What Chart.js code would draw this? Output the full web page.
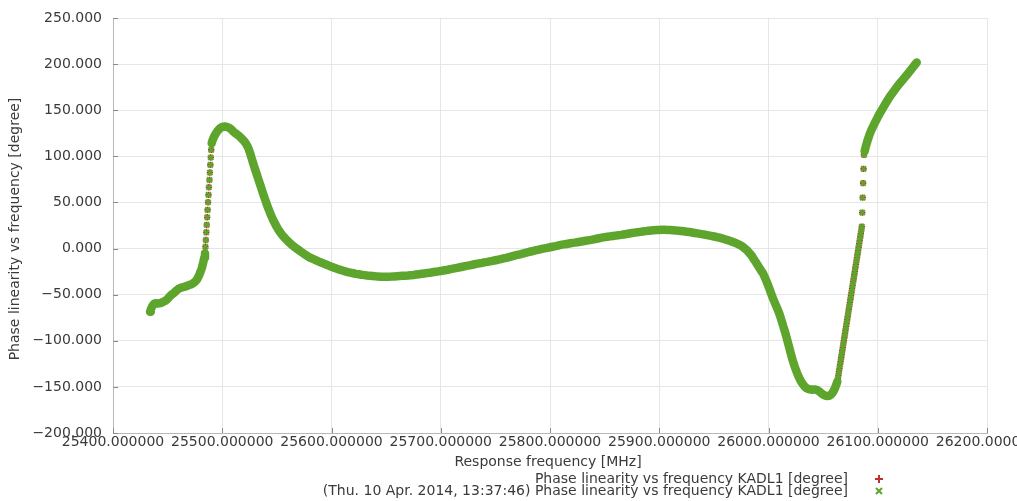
<!DOCTYPE html>
<html><head><meta charset="utf-8">
<script src="https://cdn.jsdelivr.net/npm/chart.js@4.4.1/dist/chart.umd.min.js"></script>
<style>html,body{margin:0;padding:0;background:#fff;}canvas{display:block;}</style>
</head><body>
<canvas id="c" width="1017" height="501"></canvas>
<script>
// Measured sweep: frequency [MHz] and phase linearity [degree]
const freqMHz = [
 25433.9,25434.6,25435.4,25436.5,25438.0,25439.5,25441.0,25442.5,25444.0,25445.5,
 25447.0,25448.5,25450.0,25451.5,25453.0,25454.5,25456.0,25457.5,25459.0,25460.5,
 25462.0,25463.5,25465.0,25466.5,25468.0,25469.5,25471.0,25472.5,25474.0,25475.5,
 25477.0,25478.2,25479.3,25480.3,25481.2,25482.0,25482.8,25483.5,
 25484.2,25484.6,25485.0,25485.4,25485.8,25486.2,25486.6,25487.0,25487.4,25487.8,
 25488.3,25488.7,25489.1,25489.5,25489.9,25490.3,
 25491,25492,25493,25494,25495,25496,25497,25498,25499,25500,
 25501,25502,25503,25504,25505,25506,25507,25508,25509,25510,
 25511,25512,25513,25514,25515,25516,25517,25518,25519,25520,
 25521,25522,25523,25524,25525,25526,25527,25528,25529,25530,
 25531,25532,25533,25534,25535,25536,25537,25538,25539,25540,
 25541,25542,25543,25544,25545,25546,25547,25548,25549,25550,
 25551,25552,25553,25554,25555,25556,25557,25558,25559,25560,
 25561.5,25563.0,25564.5,25566.0,25567.5,25569.0,25570.5,25572.0,25573.5,25575.0,
 25576.5,25578.0,
 25580,25582.5,25585,25587.5,25590,25592.5,25595,25597.5,25600,25602.5,
 25605,25607.5,25610,25612.5,25615,25617.5,25620,25622.5,25625,25627.5,
 25630,25632.5,25635,25637.5,25640,25642.5,25645,25647.5,25650,25652.5,
 25655,25657.5,25660,25662.5,25665,25667.5,25670,25672.5,25675,25677.5,
 25680,25682.5,25685,25687.5,25690,25692.5,25695,25697.5,25700,25702.5,
 25705,25707.5,25710,25712.5,25715,25717.5,25720,25722.5,25725,25727.5,
 25730,25732.5,25735,25737.5,25740,25742.5,25745,25747.5,25750,25752.5,
 25755,25757.5,25760,25762.5,25765,25767.5,25770,25772.5,25775,25777.5,
 25780,25782.5,25785,25787.5,25790,25792.5,25795,25797.5,25800,25802.5,
 25805,25807.5,25810,25812.5,25815,25817.5,25820,25822.5,25825,25827.5,
 25830,25832.5,25835,25837.5,25840,25842.5,25845,25847.5,25850,25852.5,
 25855,25857.5,25860,25862.5,25865,25867.5,25870,25872.5,25875,25877.5,
 25880,25882.5,25885,25887.5,25890,25892.5,25895,25897.5,25900,25902.5,
 25905,25907.5,25910,25912.5,25915,25917.5,25920,25922.5,25925,25927.5,
 25930,25932.5,25935,25937.5,25940,25942.5,25945,25947.5,25950,25952.5,
 25955,25957.5,25960,25962.5,25965,25967.5,25970,25972.5,25975,25977.5,
 25980,25982.5,25985,
 25986,25987,25988,25989,25990,25991,25992,25993,25994,25995,
 25996,25997,25998,25999,26000,26001,26002,26003,26004,26005,
 26006,26007,26008,26009,26010,26011,26012,26013,26014,26015,
 26016,26017,26018,26019,26020,26021,26022,26023,26024,26025,
 26026,26027,26028,26029,26030,26031,26032,26033,26034,26035,
 26036,26037,26038,26039,26040,26041,26042,26043,26044,26045,
 26046,26047,26048,26049,26050,26051,26052,26053,26054,26055,
 26056,26057,26058,26059,26060,26061,26062,26063,
 26063.5,26064,26064.5,26065,26065.5,26066,26066.5,26067,26067.5,26068,
 26068.5,26069,26069.5,26070,26070.5,26071,26071.5,26072,26072.5,26073,
 26073.5,26074,26074.5,26075,26075.5,26076,26076.5,26077,26077.5,26078,
 26078.5,26079,26079.5,26080,26080.5,26081,26081.5,26082,26082.5,26083,
 26083.5,26084,26084.5,26085,26085.4,
 26085.8,26086.2,26086.6,26087.0,26087.4,
 26088,26089,26090,26091,26092,26093,26094,26095,26096,26097,
 26098,26099,26100,26101,26102,26103,26104,26105,26106,26107,
 26108,26109,26110,26111,26112,26113,26114,26115,26116,26117,
 26118,26119,26120,26121,26122,26123,26124,26125,26126,26127,
 26128,26129,26130,26131,26132,26133,26134,26135,26135.7
];
const phaseDeg = [
 -68.6,-66.0,-63.8,-61.5,-59.6,-59.4,-59.5,-59.3,-58.9,-58.1,
 -57.1,-56.2,-54.6,-52.4,-50.6,-49.3,-47.8,-46.1,-44.6,-43.4,
 -42.6,-42.0,-41.6,-41.1,-40.4,-39.7,-39.0,-38.2,-37.0,-35.5,
 -33.3,-30.5,-27.5,-24.5,-21.5,-17.8,-14.0,-10.0,
 -5.1,2.0,9.3,17.6,25.6,33.9,41.9,50.2,58.2,66.5,
 74.4,82.4,90.7,98.7,107.0,114.3,
 117.0,120.0,122.5,124.5,126.3,128.0,129.3,130.5,131.3,131.8,
 132.2,132.3,132.3,132.0,131.6,131.0,130.4,129.4,128.3,127.0,
 126.0,125.0,124.3,123.3,122.4,121.3,120.2,119.0,117.8,116.5,
 115.0,113.2,111.0,108.5,105.0,101.5,97.5,93.5,89.8,86.2,
 82.6,79.0,75.4,71.8,68.2,64.6,61.0,57.5,54.0,50.5,
 47.2,44.0,41.0,38.0,35.2,32.5,30.0,27.6,25.4,23.3,
 21.3,19.4,17.6,16.0,14.5,13.1,11.8,10.5,9.3,8.1,
 6.4,4.8,3.3,1.9,0.5,-0.8,-2.1,-3.4,-4.6,-5.8,
 -7.0,-8.2,
 -9.7,-11.0,-12.3,-13.6,-14.9,-16.1,-17.3,-18.5,-19.7,-20.8,
 -21.9,-22.9,-23.8,-24.7,-25.5,-26.2,-26.8,-27.4,-27.9,-28.4,
 -28.8,-29.2,-29.5,-29.8,-30.1,-30.3,-30.5,-30.6,-30.6,-30.5,
 -30.4,-30.2,-30.0,-29.8,-29.6,-29.4,-29.2,-28.9,-28.6,-28.2,
 -27.8,-27.4,-27.0,-26.6,-26.2,-25.7,-25.2,-24.8,-24.3,-23.8,
 -23.3,-22.7,-22.1,-21.5,-20.9,-20.3,-19.7,-19.1,-18.5,-17.9,
 -17.3,-16.7,-16.1,-15.6,-15.0,-14.5,-13.9,-13.3,-12.7,-12.1,
 -11.4,-10.7,-10.0,-9.2,-8.4,-7.6,-6.9,-6.2,-5.4,-4.6,
 -3.9,-3.2,-2.5,-1.8,-1.1,-0.4,0.2,0.8,1.4,2.0,
 2.6,3.3,3.9,4.5,5.0,5.5,6.0,6.4,6.9,7.4,
 7.9,8.4,8.9,9.4,10.0,10.6,11.2,11.8,12.4,12.8,
 13.2,13.6,14.0,14.4,14.8,15.3,15.8,16.3,16.8,17.3,
 17.7,18.1,18.5,18.9,19.2,19.5,19.8,20.0,20.2,20.3,
 20.3,20.2,20.1,19.9,19.7,19.4,19.1,18.7,18.3,17.9,
 17.4,16.9,16.4,15.9,15.4,14.9,14.3,13.7,13.1,12.5,
 11.8,11.0,10.1,9.2,8.2,7.1,6.0,4.6,3.0,1.0,
 -1.5,-4.8,-8.4,
 -10.5,-12.2,-14.0,-15.8,-17.7,-19.6,-21.5,-23.4,-25.2,-27.0,
 -29.5,-32.2,-35.0,-38.0,-41.0,-44.2,-47.4,-50.6,-53.7,-56.6,
 -59.4,-62.2,-65.0,-67.8,-70.8,-74.5,-78.3,-82.2,-86.1,-90.0,
 -94.0,-98.4,-103.0,-107.5,-112.0,-116.4,-120.6,-124.4,-128.0,-131.3,
 -134.4,-137.3,-140.0,-142.4,-144.5,-146.4,-148.0,-149.4,-150.6,-151.5,
 -152.1,-152.5,-152.8,-152.9,-153.0,-152.9,-152.8,-152.9,-153.2,-153.8,
 -154.5,-155.4,-156.5,-157.5,-158.3,-159.0,-159.5,-159.8,-160.0,-159.8,
 -159.3,-158.5,-157.3,-155.7,-153.6,-150.9,-147.7,-144.3,
 -141.0,-137.3,-133.5,-129.8,-126.0,-122.3,-118.5,-114.8,-111.0,-107.3,
 -103.5,-99.8,-96.0,-92.3,-88.5,-84.8,-81.0,-77.3,-73.5,-69.8,
 -66.0,-62.3,-58.5,-54.8,-51.0,-47.3,-43.5,-39.8,-36.0,-32.3,
 -28.5,-24.8,-21.0,-17.3,-13.5,-9.8,-6.0,-2.3,1.5,5.2,
 9.0,12.7,16.5,20.2,23.8,
 39.0,55.2,70.9,86.4,101.6,
 105.5,110.5,114.5,118.5,122.0,125.3,128.0,130.6,133.0,135.4,
 137.8,140.2,142.5,144.7,146.9,148.9,150.9,152.9,154.9,156.9,
 158.8,160.8,162.7,164.6,166.3,167.9,169.5,171.1,172.7,174.3,
 175.9,177.4,178.9,180.3,181.7,183.1,184.6,186.0,187.4,188.8,
 190.3,191.8,193.3,194.8,196.3,197.8,199.3,200.8,201.8
];
const xRange = [25400, 26200];
const xTickStep = 100;
const yRange = [-200, 250];
const yTickStep = 50;
const xTitle = 'Response frequency [MHz]';
const yTitle = 'Phase linearity vs frequency [degree]';
const seriesLabel = 'Phase linearity vs frequency KADL1 [degree]';
const timestamp = '(Thu. 10 Apr. 2014, 13:37:46)';

const FONT = '"DejaVu Sans", "Liberation Sans", sans-serif';
const TEXT = '#3a3a3a';
const RED = '#c0302a';
const GREEN = '#5ea52e';

const pts = freqMHz.map((f, i) => ({x: f, y: phaseDeg[i]}));
// segments between finely spaced samples stay as separate dots
const fineStep = 0.6;

const decor = {
  id: 'decor',
  beforeDatasetsDraw(chart) {
    const {ctx, chartArea: a, scales: {x, y}} = chart;
    ctx.save();
    ctx.strokeStyle = '#8a8a8a';
    ctx.lineWidth = 1;
    ctx.beginPath();
    y.ticks.forEach(t => {
      const py = Math.round(y.getPixelForValue(t.value)) + 0.5;
      ctx.moveTo(a.left, py); ctx.lineTo(a.left + 5, py);
    });
    x.ticks.forEach(t => {
      const px = Math.round(x.getPixelForValue(t.value)) + 0.5;
      ctx.moveTo(px, a.bottom); ctx.lineTo(px, a.bottom - 5);
    });
    ctx.stroke();
    ctx.restore();
  },
  afterDraw(chart) {
    const {ctx} = chart;
    ctx.save();
    ctx.fillStyle = TEXT;
    ctx.font = '14px ' + FONT;
    ctx.textBaseline = 'middle';
    ctx.save();
    ctx.translate(15, 229);
    ctx.rotate(-Math.PI / 2);
    ctx.textAlign = 'center';
    ctx.fillText(yTitle, 0, 0);
    ctx.restore();
    ctx.textAlign = 'center';
    ctx.fillText(xTitle, 548, 462);
    ctx.textAlign = 'right';
    ctx.fillText(seriesLabel, 848, 479);
    ctx.fillText(timestamp + ' ' + seriesLabel, 848, 491);
    ctx.lineWidth = 2;
    ctx.strokeStyle = RED;
    ctx.beginPath();
    ctx.moveTo(875, 479); ctx.lineTo(883, 479);
    ctx.moveTo(879, 475); ctx.lineTo(879, 483);
    ctx.stroke();
    ctx.strokeStyle = GREEN;
    ctx.beginPath();
    ctx.moveTo(876, 488); ctx.lineTo(882, 494);
    ctx.moveTo(882, 488); ctx.lineTo(876, 494);
    ctx.stroke();
    ctx.restore();
  }
};

new Chart(document.getElementById('c'), {
  type: 'scatter',
  data: {
    datasets: [
      {label: seriesLabel, data: pts, order: 1, pointStyle: 'cross',
       pointRadius: 3.2, pointBorderWidth: 1.6, pointBorderColor: RED, pointBackgroundColor: RED},
      {label: seriesLabel, data: pts, order: 0, pointStyle: 'crossRot',
       pointRadius: 3.6, pointBorderWidth: 2.2, pointBorderColor: GREEN, pointBackgroundColor: GREEN,
       showLine: true, borderColor: GREEN, borderWidth: 8.5,
       borderJoinStyle: 'round', borderCapStyle: 'round', tension: 0,
       segment: {borderColor: c => (c.p1.parsed.x - c.p0.parsed.x) < fineStep ? 'rgba(0,0,0,0)' : undefined}}
    ]
  },
  options: {
    responsive: false,
    devicePixelRatio: 1,
    animation: false,
    events: [],
    layout: {padding: {top: 18, right: 30, left: 0, bottom: 0}},
    plugins: {legend: {display: false}, tooltip: {enabled: false}, title: {display: false}},
    scales: {
      x: {
        type: 'linear', min: xRange[0], max: xRange[1],
        ticks: {stepSize: xTickStep, autoSkip: false, maxRotation: 0, minRotation: 0,
                padding: 1, color: TEXT, font: {family: FONT, size: 14},
                callback: v => Number(v).toFixed(6)},
        grid: {color: '#e6e6e6', drawTicks: false},
        border: {color: '#b8b8b8'},
        afterFit(s) { s.paddingLeft = 0; s.paddingRight = 0; s.height = 68; }
      },
      y: {
        type: 'linear', min: yRange[0], max: yRange[1],
        ticks: {stepSize: yTickStep, padding: 11, color: TEXT, font: {family: FONT, size: 14},
                callback: v => (v < 0 ? '\u2212' : '') + Math.abs(v).toFixed(3)},
        grid: {color: '#e6e6e6', drawTicks: false},
        border: {color: '#b8b8b8'},
        afterFit(s) { s.width = 113; s.paddingTop = 0; s.paddingBottom = 0; }
      }
    }
  },
  plugins: [decor]
});
</script>
</body></html>
